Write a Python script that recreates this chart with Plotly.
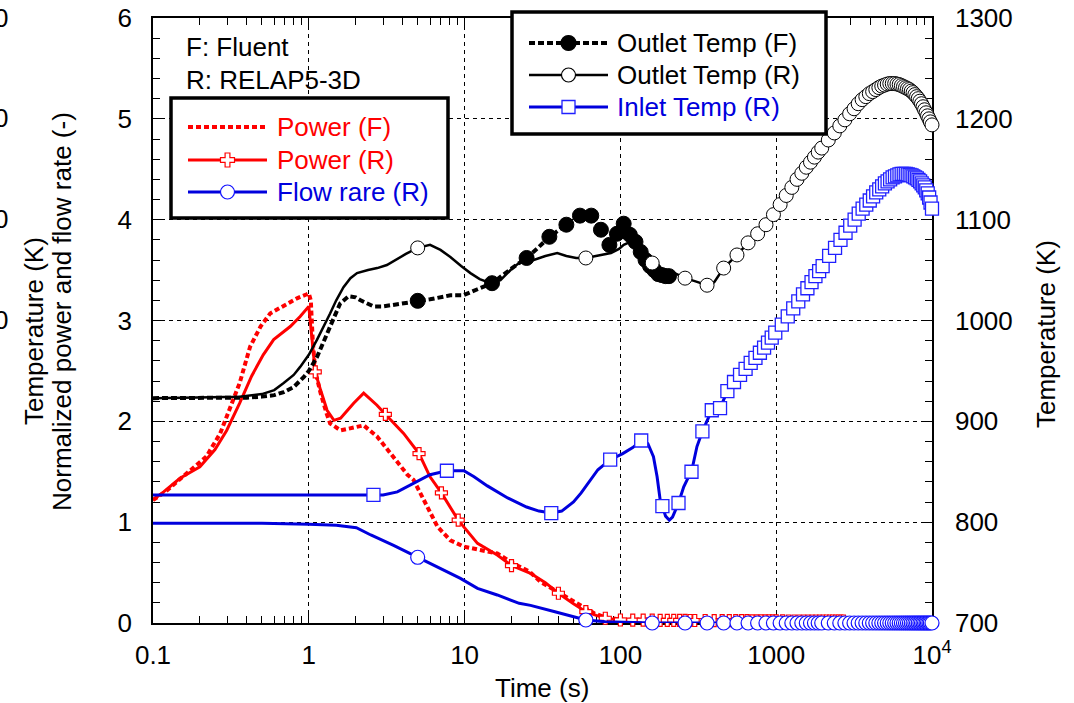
import plotly.graph_objects as go

# ------------------------------------------------------------------ data
# Power (F)  (Fluent, normalized power, left axis)
pf_t = [0.1, 0.12, 0.15, 0.177, 0.22, 0.27, 0.31, 0.36, 0.42, 0.49,
        0.565, 0.69, 0.84, 0.97, 1.0, 1.03, 1.06, 1.1, 1.19, 1.3,
        1.37, 1.6, 1.85, 2.25, 2.74, 3.5, 4.3, 4.7, 5.5, 6.7,
        8.1, 9.9, 12.6, 16.2, 20.6, 26.1, 30.6, 37.6, 44.1, 54.5,
        60.4, 67.8, 80, 100, 130, 170, 220]
pf_v = [1.22, 1.30, 1.43, 1.52, 1.65, 1.88, 2.11, 2.38, 2.74, 2.94,
        3.07, 3.15, 3.22, 3.26, 3.27, 3.2, 2.8, 2.5, 2.28, 2.08,
        1.98, 1.91, 1.93, 1.96, 1.85, 1.65, 1.47, 1.42, 1.22, 0.955,
        0.82, 0.757, 0.724, 0.69, 0.59, 0.51, 0.41, 0.33, 0.26, 0.18,
        0.146, 0.096, 0.055, 0.035, 0.03, 0.03, 0.03]

# Power (R)  (RELAP5-3D) - curve points and cross-marker points
pr_t = [0.1, 0.117, 0.149, 0.2, 0.25, 0.297, 0.36, 0.43, 0.51, 0.595,
        0.76, 0.88, 1.0, 1.05, 1.19, 1.31, 1.45, 1.6, 1.75, 1.94,
        2.25, 2.5, 2.74, 4.06, 6.0, 8.1, 12.1, 16.2, 26.5, 33,
        50, 70, 10000]
pr_v = [1.22, 1.30, 1.435, 1.55, 1.72, 1.91, 2.18, 2.45, 2.66, 2.81,
        2.94, 3.04, 3.14, 2.81, 2.31, 2.11, 2.01, 2.03, 2.1, 2.18,
        2.28, 2.22, 2.16, 1.88, 1.45, 1.14, 0.79, 0.674, 0.493, 0.40,
        0.19, 0.075, 0.015]
prm_t = [1.1, 3.1, 5.1, 7.1, 9.1, 20, 40,
         60, 80, 100, 120, 140, 160, 180, 200, 220, 240, 260, 280, 300,
         350, 400, 450, 500, 550, 600, 650, 700, 750, 800, 850, 900, 950, 1000,
         1100, 1200, 1300, 1400, 1500, 1600, 1700, 1800, 1900, 2000,
         2100, 2200, 2300, 2400, 2500, 2600, 2700]
prm_v = [2.49, 2.07, 1.68, 1.29, 1.02, 0.57, 0.295,
         0.112, 0.047, 0.03, 0.029, 0.028, 0.028, 0.027, 0.027, 0.026, 0.026, 0.026, 0.025, 0.025,
         0.025, 0.024, 0.024, 0.024, 0.023, 0.023, 0.023, 0.022, 0.022, 0.022, 0.022, 0.021, 0.021, 0.021,
         0.021, 0.02, 0.02, 0.02, 0.02, 0.02, 0.02, 0.02, 0.02, 0.02,
         0.02, 0.02, 0.02, 0.02, 0.02, 0.02, 0.02]

# output times of the RELAP5-3D circle markers (s)
t_out = [5.0] + list(range(60, 2000, 100)) + list(range(2160, 9800, 200)) + [10000]

# Flow rate (R)
fl_t = [0.1, 0.5, 1.0, 1.5, 2.02, 2.5, 3.5, 6.0, 7.5, 9.4,
        12.1, 16.2, 22.4, 26.5, 38, 50, 80, 110]
fl_v = [0.99, 0.99, 0.98, 0.97, 0.945, 0.873, 0.77, 0.592, 0.51, 0.443,
        0.344, 0.278, 0.195, 0.175, 0.112, 0.06, 0.012, 0.005]
flm_v = [0.652, 0.03, 0.0, 0.0, 0.0, 0.0, 0.0, 0.0, 0.0, 0.0, 0.0,
         0.0, 0.0, 0.0, 0.0, 0.0, 0.0, 0.0, 0.0, 0.0, 0.0,
         0.0, 0.0, 0.0, 0.0, 0.0, 0.0, 0.0, 0.0, 0.0, 0.0,
         0.0, 0.0, 0.0, 0.0, 0.0, 0.0, 0.0, 0.0, 0.0, 0.0,
         0.0, 0.0, 0.0, 0.0, 0.0, 0.0, 0.0, 0.0, 0.0, 0.0,
         0.0, 0.0, 0.0, 0.0, 0.0, 0.0, 0.0, 0.0, 0.0, 0.0]

# Outlet Temp (F)  (K, right axis)
of_t = [0.1, 0.2, 0.3, 0.4, 0.5, 0.6, 0.69, 0.8, 0.93, 1.0,
        1.13, 1.25, 1.37, 1.5, 1.59, 1.8, 2.0, 2.15, 2.6, 3.0,
        3.34, 4.0, 6.0, 8.1, 9.8, 12.1, 20.6, 30]
of_v = [923, 923, 923, 923.5, 924.5, 926, 929, 934, 944, 950,
        964, 980, 994, 1008, 1017, 1024, 1023, 1020, 1014, 1014,
        1015, 1017, 1021, 1025, 1025, 1031, 1053, 1073]
ofm_t = [5, 15, 25, 35, 45, 55, 65, 75, 85, 95, 105,
         115, 125, 135, 145, 155, 165, 175, 185, 195, 205]
ofm_v = [1019.5, 1037, 1062, 1083, 1095, 1104, 1104, 1090, 1075, 1086, 1096,
         1085, 1078, 1068, 1060, 1054, 1050, 1046, 1045, 1044, 1044]

# Outlet Temp (R)
or_t = [0.1, 0.2, 0.36, 0.5, 0.6, 0.69, 0.8, 0.88, 1.0, 1.13,
        1.25, 1.37, 1.5, 1.67, 1.85, 2.04, 2.4, 2.75, 3.17, 3.6,
        4.2, 6.0, 7.0, 8.1, 9.5, 10.9, 12.5, 14.7, 17, 20.6,
        24, 27.8, 33, 39.3, 45, 52, 70, 87, 98, 105,
        116, 122, 129, 140, 180, 210, 300, 400, 430]
or_v = [923, 923.5, 924.5, 927, 931, 938, 946, 954, 966, 981,
        994, 1007, 1020, 1033, 1042, 1047, 1050, 1052, 1055, 1060,
        1066, 1075, 1070, 1063, 1054, 1047, 1041, 1037, 1040, 1053,
        1060, 1060, 1064, 1067, 1064, 1062, 1064, 1067, 1071, 1075,
        1078, 1073, 1068, 1063, 1052, 1049, 1039, 1038, 1045]
orm_v = [1072,
         1062, 1057, 1042, 1035, 1052, 1065, 1077, 1086, 1095, 1105,
         1115, 1124, 1132, 1140, 1146, 1152, 1157, 1162, 1167, 1171,
         1179, 1186, 1193, 1199, 1205, 1210, 1215, 1219, 1222, 1225,
         1227, 1229, 1231, 1232.5, 1233.5, 1234.5, 1235, 1235, 1235, 1234.5,
         1234, 1233, 1232, 1231, 1230, 1229, 1227.5, 1226, 1224, 1222,
         1220, 1217.5, 1215, 1212, 1209, 1206, 1203, 1200, 1197, 1194]

# Inlet Temp (R)
in_t = [0.1, 1.0, 3.0, 3.7, 4.5, 5.2, 6.0, 9.9, 11.5, 14,
        18.9, 25, 30, 42, 50, 56, 64, 71.7, 103.5, 120,
        150, 163, 172, 180, 195, 206, 216, 255, 268, 310]
in_v = [827, 827, 827, 830, 837, 842, 847, 851, 845, 836,
        824, 815, 811, 811, 820, 829, 842, 852, 868, 874,
        878, 865, 845, 822, 806, 802, 805, 835, 842, 875]
inm_t = [2.6, 7.7, 36, 86, 136, 186, 236, 286, 336, 386, 436, 486, 536, 586,
         636, 686, 736, 786, 836, 886, 936, 986,
         1086, 1186, 1286, 1386, 1486, 1586, 1686, 1786, 1886, 1986,
         2186, 2386, 2586, 2786, 2986, 3186, 3386, 3586, 3786, 3986,
         4186, 4386, 4586, 4786, 4986, 5186, 5386, 5586, 5786, 5986,
         6186, 6386, 6586, 6786, 6986, 7186, 7386, 7586, 7786, 7986,
         8186, 8386, 8586, 8786, 8986, 9186, 9386, 9586, 9786, 10000]
inm_v = [827, 851, 809, 862, 881, 816, 819, 850, 890, 911, 913, 930, 939, 946,
         952, 958, 963, 968, 973, 978, 983, 988,
         996, 1004, 1012, 1019, 1026, 1032, 1038, 1044, 1049, 1054,
         1064, 1072, 1080, 1087, 1094, 1100, 1106, 1111, 1115, 1119,
         1123, 1127, 1130, 1133, 1136, 1138, 1140, 1142, 1143, 1144,
         1145, 1145.5, 1145.5, 1145.5, 1145, 1144.5, 1144, 1143, 1142, 1141,
         1139.5, 1138, 1136, 1134, 1132, 1129, 1126, 1122, 1117, 1111]

x_tickvals = [0.1, 1, 10, 100, 1000, 10000]
x_ticktext = ["0.1", "1", "10", "100", "1000", "10<sup>4</sup>"]

# ------------------------------------------------------------------ style
RED = "#ff0000"
BLUE = "#0000dd"
BLACK = "#000000"
FONT = "Liberation Sans, Arial, Helvetica, sans-serif"
FS = 26


def merged(t1, v1, t2, v2):
    pts = sorted(zip(list(t1) + list(t2), list(v1) + list(v2)))
    return [p[0] for p in pts], [p[1] for p in pts]


fig = go.Figure()

# left axis series
fig.add_trace(go.Scatter(x=pf_t, y=pf_v, mode="lines", name="Power (F)",
                         line=dict(color=RED, width=4, dash="5px,3px"), showlegend=False))
x, y = merged(pr_t, pr_v, prm_t, prm_v)
fig.add_trace(go.Scatter(x=x, y=y, mode="lines", name="Power (R)",
                         line=dict(color=RED, width=3), showlegend=False))
fig.add_trace(go.Scatter(x=prm_t, y=prm_v, mode="markers", name="Power (R)", cliponaxis=False,
                         marker=dict(symbol="cross", size=10, color="white",
                                     line=dict(color=RED, width=1.2)), showlegend=False))
x, y = merged(fl_t, fl_v, t_out, flm_v)
fig.add_trace(go.Scatter(x=x, y=y, mode="lines", name="Flow rare (R)",
                         line=dict(color=BLUE, width=3), showlegend=False))
fig.add_trace(go.Scatter(x=t_out, y=flm_v, mode="markers", name="Flow rare (R)", cliponaxis=False,
                         marker=dict(symbol="circle", size=14, color="white",
                                     line=dict(color="#1010ff", width=1.2)), showlegend=False))

# right axis series
x, y = merged(of_t, of_v, ofm_t, ofm_v)
fig.add_trace(go.Scatter(x=x, y=y, mode="lines", name="Outlet Temp (F)", yaxis="y2",
                         line=dict(color=BLACK, width=4, dash="6px,3px"), showlegend=False))
fig.add_trace(go.Scatter(x=ofm_t, y=ofm_v, mode="markers", name="Outlet Temp (F)", yaxis="y2",
                         cliponaxis=False,
                         marker=dict(symbol="circle", size=15, color=BLACK,
                                     line=dict(color=BLACK, width=1)), showlegend=False))
x, y = merged(or_t, or_v, t_out, orm_v)
fig.add_trace(go.Scatter(x=x, y=y, mode="lines", name="Outlet Temp (R)", yaxis="y2",
                         line=dict(color=BLACK, width=2.5), showlegend=False))
fig.add_trace(go.Scatter(x=t_out, y=orm_v, mode="markers", name="Outlet Temp (R)", yaxis="y2",
                         cliponaxis=False,
                         marker=dict(symbol="circle", size=14, color="white",
                                     line=dict(color=BLACK, width=1)), showlegend=False))
x, y = merged(in_t, in_v, inm_t, inm_v)
fig.add_trace(go.Scatter(x=x, y=y, mode="lines", name="Inlet Temp (R)", yaxis="y2",
                         line=dict(color=BLUE, width=3), showlegend=False))
fig.add_trace(go.Scatter(x=inm_t, y=inm_v, mode="markers", name="Inlet Temp (R)", yaxis="y2",
                         cliponaxis=False,
                         marker=dict(symbol="square", size=13, color="white",
                                     line=dict(color="#2020ff", width=1.3)), showlegend=False))

# ------------------------------------------------------------------ legends (drawn boxes)
L, R_, T, B = 153, 932, 18, 623


def PX(v):
    return (v - L) / (R_ - L)


def PY(v):
    return (B - v) / (B - T)


shapes = []
annotations = []


def box(x0, y0, x1, y1):
    shapes.append(dict(type="rect", xref="paper", yref="paper", x0=PX(x0), x1=PX(x1),
                       y0=PY(y1), y1=PY(y0), line=dict(color=BLACK, width=3.5),
                       fillcolor="white", layer="above"))


def seg(x0, x1, yy, color, width, dash="solid"):
    shapes.append(dict(type="line", xref="paper", yref="paper", x0=PX(x0), x1=PX(x1),
                       y0=PY(yy), y1=PY(yy), line=dict(color=color, width=width, dash=dash),
                       layer="above"))


def circ(cx, cy, r, fill, color, lw=1.2):
    shapes.append(dict(type="circle", xref="paper", yref="paper", x0=PX(cx - r), x1=PX(cx + r),
                       y0=PY(cy + r), y1=PY(cy - r), fillcolor=fill,
                       line=dict(color=color, width=lw), layer="above"))


def sq(cx, cy, h, color, lw=1.3):
    shapes.append(dict(type="rect", xref="paper", yref="paper", x0=PX(cx - h), x1=PX(cx + h),
                       y0=PY(cy + h), y1=PY(cy - h), fillcolor="white",
                       line=dict(color=color, width=lw), layer="above"))


def cross(cx, cy, a, s, color, lw=1.2):
    pts = [(-a, -s), (a, -s), (a, -a), (s, -a), (s, a), (a, a), (a, s), (-a, s),
           (-a, a), (-s, a), (-s, -a), (-a, -a)]
    path = "M " + " L ".join("%.5f,%.5f" % (PX(cx + dx), PY(cy + dy)) for dx, dy in pts) + " Z"
    shapes.append(dict(type="path", xref="paper", yref="paper", path=path, fillcolor="white",
                       line=dict(color=color, width=lw), layer="above"))


def label(xx, yy, text, color=BLACK, anchor="left", angle=0):
    annotations.append(dict(xref="paper", yref="paper", x=PX(xx), y=PY(yy), text=text,
                            showarrow=False, xanchor=anchor, yanchor="middle", textangle=angle,
                            font=dict(family=FONT, size=FS, color=color)))


# legend 1
box(171, 98, 448, 218)
seg(188, 267, 127, RED, 4, "5px,3px")
label(275, 127, "Power (F)", RED)
seg(188, 267, 160, RED, 3)
cross(227.5, 160, 2.4, 7, RED)
label(275, 160, "Power (R)", RED)
seg(188, 267, 192, BLUE, 3)
circ(227.5, 192, 7, "white", "#1010ff")
label(275, 192, "Flow rare (R)", BLUE)

# legend 2
box(512, 12, 826, 134)
seg(529, 608, 43, BLACK, 4, "6px,3px")
circ(568.5, 43, 7.5, BLACK, BLACK)
label(615, 43, "Outlet Temp (F)")
seg(529, 608, 75, BLACK, 2.5)
circ(568.5, 75, 7, "white", BLACK)
label(615, 75, "Outlet Temp (R)")
seg(529, 608, 107, BLUE, 3)
sq(568.5, 107, 6.5, "#2020ff")
label(615, 107, "Inlet Temp (R)", BLUE)

# notes
label(184, 47, "F: Fluent")
label(184, 80, "R: RELAP5-3D")

# axis titles
label(34, 331, "Temperature (K)", anchor="center", angle=-90)
label(62, 312, "Normalized power and flow rate (-)", anchor="center", angle=-90)
label(1046, 334, "Temperature (K)", anchor="center", angle=-90)
label(542, 688, "Time (s)", anchor="center")

# leftover tick digits clipped at the far left edge
for yy in [18, 118, 219, 320]:
    label(10, yy, "0", anchor="right")

# ------------------------------------------------------------------ layout
minor_x = [m * 10.0 ** k for k in range(-1, 4) for m in range(2, 10)]

axis_common = dict(showline=True, linecolor=BLACK, linewidth=1.5, ticks="inside",
                   ticklen=10, tickwidth=1, tickcolor=BLACK, zeroline=False, automargin=False,
                   tickfont=dict(family=FONT, size=FS, color=BLACK))

fig.update_layout(
    width=1074, height=703,
    margin=dict(l=L, r=1074 - R_, t=T, b=703 - B, autoexpand=False),
    paper_bgcolor="white", plot_bgcolor="white",
    font=dict(family=FONT, size=FS, color=BLACK),
    showlegend=False,
    xaxis=dict(type="log", range=[-1, 4], tickvals=x_tickvals, ticktext=x_ticktext,
               mirror="ticks", showgrid=True, gridcolor=BLACK, gridwidth=1, griddash="4px,4px",
               layer="below traces", ticklabelstandoff=8,
               minor=dict(ticks="inside", ticklen=7, tickvals=minor_x, tickcolor=BLACK,
                          showgrid=False),
               **axis_common),
    yaxis=dict(range=[0, 6], dtick=1, showgrid=True, gridcolor=BLACK, gridwidth=1,
               griddash="4px,4px", layer="below traces", ticklabelstandoff=14,
               minor=dict(ticks="inside", ticklen=7, dtick=0.2, tickcolor=BLACK, showgrid=False),
               **axis_common),
    yaxis2=dict(range=[700, 1300], dtick=100, overlaying="y", side="right", showgrid=False,
                layer="below traces", ticklabelstandoff=16,
                minor=dict(ticks="inside", ticklen=7, dtick=20, tickcolor=BLACK, showgrid=False),
                **axis_common),
    shapes=shapes,
    annotations=annotations,
)

fig.write_html("out.html")
